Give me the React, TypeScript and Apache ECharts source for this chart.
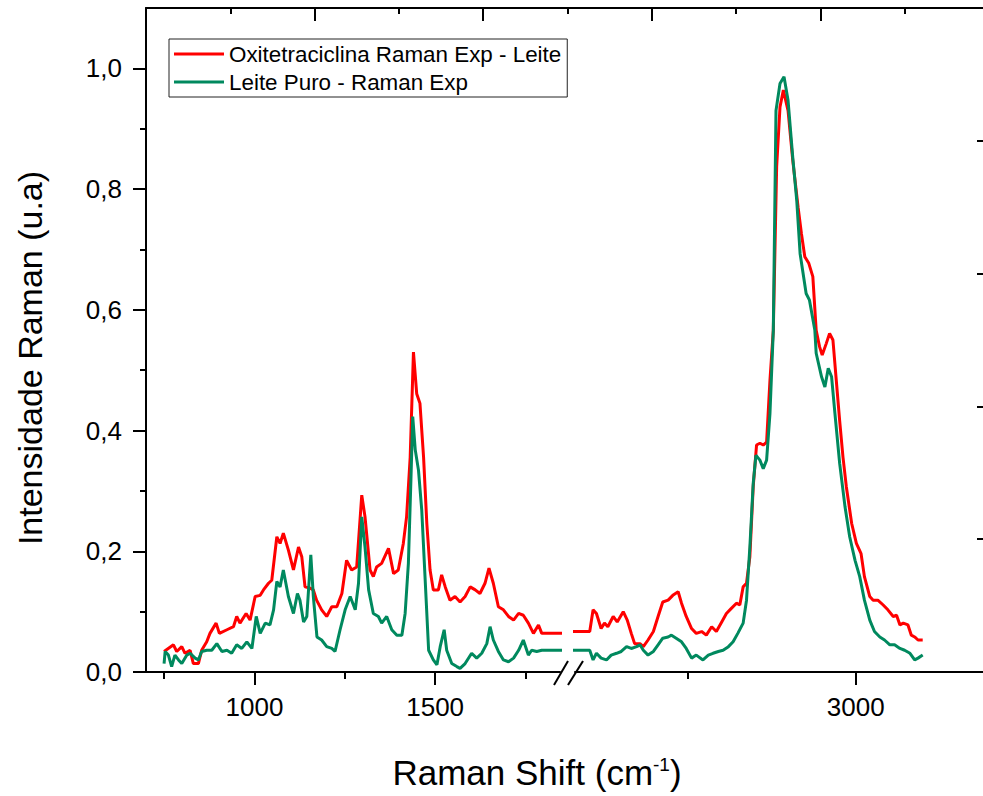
import React, { useEffect, useRef } from 'react';
import * as echarts from 'echarts';

// ---------- data (Raman shift in cm-1, intensity in u.a) ----------
const oxiShift = [
  750, 776, 785, 799, 808, 822, 831, 845, 854, 868,
  877, 894, 903, 924, 942, 951, 960, 977, 988, 1002,
  1016, 1025, 1039, 1048, 1062, 1071, 1080, 1094, 1108, 1122,
  1131, 1140, 1154, 1163, 1172, 1186, 1200, 1214, 1228, 1242,
  1255, 1269, 1283, 1297, 1306, 1320, 1329, 1338, 1352, 1371,
  1385, 1398, 1412, 1421, 1431, 1440, 1449, 1458, 1468, 1477,
  1486, 1495, 1509, 1518, 1528, 1541, 1555, 1569, 1583, 1597,
  1611, 1624, 1638, 1649, 1661, 1675, 1689, 1703, 1717, 1731,
  1744, 1758, 1772, 1786, 1795,
  2603, 2608, 2613, 2620, 2625, 2630, 2638, 2644, 2653, 2659,
  2665, 2670, 2678, 2683, 2690, 2698, 2705, 2712, 2720, 2727,
  2735, 2740, 2747, 2755, 2762, 2770, 2777, 2785, 2792, 2800,
  2807, 2814, 2822, 2827, 2832, 2837, 2842, 2847, 2852, 2857,
  2862, 2867, 2872, 2877, 2882, 2887, 2892, 2899, 2906, 2914,
  2919, 2924, 2930, 2936, 2941, 2946, 2950, 2956, 2961, 2966,
  2971, 2976, 2981, 2986, 2994, 3001, 3008, 3013, 3021, 3026,
  3033, 3041, 3048, 3056, 3061, 3066, 3071, 3078, 3083, 3088,
  3093, 3100,
];
const oxiIntensity = [
  0.034, 0.045, 0.034, 0.042, 0.031, 0.036, 0.014, 0.014, 0.036, 0.050,
  0.064, 0.081, 0.064, 0.070, 0.075, 0.092, 0.081, 0.097, 0.086, 0.125,
  0.127, 0.136, 0.147, 0.152, 0.224, 0.213, 0.230, 0.202, 0.169, 0.207,
  0.191, 0.141, 0.139, 0.136, 0.119, 0.103, 0.092, 0.108, 0.108, 0.130,
  0.185, 0.169, 0.174, 0.293, 0.257, 0.169, 0.158, 0.174, 0.180, 0.205,
  0.163, 0.169, 0.213, 0.257, 0.356, 0.530, 0.461, 0.445, 0.356, 0.246,
  0.169, 0.136, 0.136, 0.161, 0.141, 0.119, 0.125, 0.116, 0.125, 0.141,
  0.136, 0.130, 0.147, 0.172, 0.147, 0.108, 0.103, 0.092, 0.086, 0.097,
  0.094, 0.081, 0.064, 0.078, 0.064,
  0.067, 0.103, 0.097, 0.072, 0.081, 0.075, 0.092, 0.083, 0.100, 0.086,
  0.064, 0.047, 0.047, 0.042, 0.053, 0.067, 0.092, 0.116, 0.119, 0.127,
  0.133, 0.114, 0.092, 0.072, 0.064, 0.067, 0.061, 0.075, 0.067, 0.083,
  0.097, 0.105, 0.114, 0.111, 0.141, 0.147, 0.191, 0.307, 0.376, 0.379,
  0.376, 0.381, 0.483, 0.566, 0.837, 0.936, 0.964, 0.930, 0.848, 0.770,
  0.726, 0.688, 0.677, 0.655, 0.566, 0.539, 0.525, 0.544, 0.561, 0.550,
  0.483, 0.417, 0.356, 0.307, 0.246, 0.213, 0.196, 0.158, 0.125, 0.119,
  0.119, 0.111, 0.103, 0.092, 0.094, 0.078, 0.081, 0.078, 0.061, 0.058,
  0.053, 0.053,
];
const leiteShift = [
  750, 753, 762, 771, 780, 790, 799, 813, 822, 836,
  845, 854, 868, 882, 896, 910, 924, 937, 951, 965,
  979, 993, 1005, 1016, 1030, 1043, 1053, 1062, 1071, 1080,
  1094, 1108, 1119, 1126, 1136, 1145, 1156, 1163, 1173, 1186,
  1200, 1214, 1223, 1237, 1251, 1265, 1279, 1288, 1297, 1306,
  1316, 1329, 1343, 1352, 1366, 1380, 1394, 1408, 1417, 1426,
  1433, 1438, 1445, 1454, 1463, 1472, 1482, 1495, 1505, 1514,
  1525, 1532, 1546, 1560, 1569, 1583, 1601, 1615, 1629, 1643,
  1652, 1661, 1675, 1689, 1703, 1717, 1731, 1744, 1758, 1767,
  1781, 1795,
  2603, 2608, 2613, 2620, 2628, 2635, 2643, 2650, 2658, 2665, 2673,
  2678, 2683, 2690, 2698, 2705, 2712, 2720, 2725, 2732, 2740,
  2747, 2755, 2762, 2772, 2780, 2787, 2795, 2802, 2810, 2817,
  2824, 2832, 2837, 2842, 2847, 2851, 2857, 2862, 2867, 2872,
  2877, 2881, 2887, 2893, 2899, 2906, 2912, 2917, 2926, 2931,
  2939, 2941, 2949, 2954, 2959, 2964, 2969, 2976, 2984, 2991,
  2999, 3006, 3013, 3021, 3028, 3036, 3043, 3051, 3058, 3066,
  3073, 3081, 3088, 3093, 3100,
];
const leiteIntensity = [
  0.014, 0.034, 0.028, 0.009, 0.028, 0.020, 0.014, 0.028, 0.031, 0.023,
  0.020, 0.034, 0.036, 0.036, 0.047, 0.034, 0.036, 0.031, 0.045, 0.039,
  0.050, 0.039, 0.092, 0.064, 0.081, 0.078, 0.103, 0.150, 0.141, 0.169,
  0.125, 0.097, 0.130, 0.119, 0.083, 0.092, 0.194, 0.125, 0.058, 0.053,
  0.042, 0.039, 0.034, 0.070, 0.103, 0.125, 0.103, 0.147, 0.257, 0.207,
  0.136, 0.097, 0.092, 0.081, 0.092, 0.070, 0.061, 0.061, 0.097, 0.180,
  0.318, 0.423, 0.368, 0.334, 0.268, 0.158, 0.036, 0.020, 0.012, 0.042,
  0.070, 0.036, 0.014, 0.009, 0.006, 0.014, 0.031, 0.023, 0.031, 0.047,
  0.075, 0.053, 0.034, 0.020, 0.017, 0.023, 0.036, 0.053, 0.028, 0.036,
  0.034, 0.036,
  0.036, 0.020, 0.031, 0.023, 0.020, 0.028, 0.031, 0.034, 0.042, 0.039, 0.042,
  0.045, 0.036, 0.028, 0.034, 0.045, 0.056, 0.058, 0.061, 0.056, 0.050,
  0.039, 0.023, 0.028, 0.020, 0.028, 0.031, 0.034, 0.036, 0.042, 0.050,
  0.064, 0.081, 0.119, 0.207, 0.312, 0.359, 0.351, 0.337, 0.351, 0.428,
  0.566, 0.930, 0.975, 0.986, 0.947, 0.853, 0.781, 0.693, 0.627, 0.616,
  0.566, 0.528, 0.489, 0.472, 0.503, 0.489, 0.428, 0.346, 0.274, 0.224,
  0.185, 0.158, 0.119, 0.086, 0.067, 0.058, 0.053, 0.045, 0.045, 0.039,
  0.036, 0.031, 0.020, 0.023, 0.028,
];

const seriesNames = ['Oxitetraciclina Raman Exp - Leite', 'Leite Puro - Raman Exp'];
const yMajorTicks = [0, 0.2, 0.4, 0.6, 0.8, 1.0];
const yMinorTicks = [0.1, 0.3, 0.5, 0.7, 0.9];
const xLeftMajor = [1000, 1500];
const xLeftMinor = [750, 1250, 1750];
const xRightMajor = [3000];
const xRightMinor = [2750];

// ---------- layout / style ----------
const FONT = '"Liberation Sans", Arial, Helvetica, sans-serif';
const BLACK = '#000000';
const RED = '#FF0000';
const GREEN = '#00895E';
const LEFT_MIN = 700;
const LEFT_MAX = 1845.5;
const RIGHT_MIN = 2581;
const RIGHT_MAX = 3190;

const pairs = (xs: number[], ys: number[]) => xs.map((x, i) => [x, ys[i]]);

export default function App() {
  const ref = useRef<HTMLDivElement>(null);

  useEffect(() => {
    if (!ref.current) return;
    const chart = echarts.init(ref.current, undefined, { renderer: 'svg' });

    const lineAxisStyle = { color: BLACK, width: 2 };
    const hiddenValueY = (gridIndex: number) => ({
      type: 'value', gridIndex, min: 0, max: 1.1, show: false,
      splitLine: { show: false },
    });

    const oxiData = pairs(oxiShift, oxiIntensity);
    const leiteData = pairs(leiteShift, leiteIntensity);

    const mkSeries = (name: string, color: string, data: number[][], xi: number, yi: number) => ({
      name, type: 'line', xAxisIndex: xi, yAxisIndex: yi, data,
      showSymbol: false, symbol: 'none', clip: true, color,
      lineStyle: { color, width: 3 },
      emphasis: { disabled: true },
    });

    const option: any = {
      animation: false,
      backgroundColor: '#ffffff',
      textStyle: { fontFamily: FONT },
      grid: [
        { left: 146, top: 8, width: 414, bottom: 124, outerBoundsMode: 'none' },
        { left: 575, top: 8, right: 0, bottom: 124, outerBoundsMode: 'none' },
        { left: 146, top: 8, right: -6, bottom: 124, outerBoundsMode: 'none' },
      ],
      xAxis: [
        {
          type: 'value', gridIndex: 0, position: 'bottom', min: LEFT_MIN, max: LEFT_MAX,
          axisLine: { show: true, onZero: false, lineStyle: lineAxisStyle },
          axisTick: { show: true, length: 13, lineStyle: lineAxisStyle, customValues: xLeftMajor },
          axisLabel: {
            show: true, customValues: xLeftMajor, fontSize: 26, color: BLACK, margin: 22,
            fontFamily: FONT, formatter: (v: number) => String(v),
          },
          splitLine: { show: false },
        },
        {
          type: 'value', gridIndex: 0, position: 'bottom', min: LEFT_MIN, max: LEFT_MAX,
          axisLine: { show: false, onZero: false },
          axisTick: { show: true, length: 7, lineStyle: lineAxisStyle, customValues: xLeftMinor },
          axisLabel: { show: false },
          splitLine: { show: false },
        },
        {
          type: 'value', gridIndex: 1, position: 'bottom', min: RIGHT_MIN, max: RIGHT_MAX,
          axisLine: { show: true, onZero: false, lineStyle: lineAxisStyle },
          axisTick: { show: true, length: 13, lineStyle: lineAxisStyle, customValues: xRightMajor },
          axisLabel: {
            show: true, customValues: xRightMajor, fontSize: 26, color: BLACK, margin: 22,
            fontFamily: FONT, formatter: (v: number) => String(v),
          },
          splitLine: { show: false },
        },
        {
          type: 'value', gridIndex: 1, position: 'bottom', min: RIGHT_MIN, max: RIGHT_MAX,
          axisLine: { show: false, onZero: false },
          axisTick: { show: true, length: 7, lineStyle: lineAxisStyle, customValues: xRightMinor },
          axisLabel: { show: false },
          splitLine: { show: false },
        },
        {
          type: 'value', gridIndex: 2, position: 'top', min: 0, max: 10, interval: 2,
          axisLine: { show: true, onZero: false, lineStyle: lineAxisStyle },
          axisTick: { show: true, inside: true, length: 13, lineStyle: lineAxisStyle },
          minorTick: { show: true, splitNumber: 2, length: 6, lineStyle: lineAxisStyle },
          axisLabel: { show: false },
          splitLine: { show: false },
          minorSplitLine: { show: false },
        },
      ],
      yAxis: [
        {
          type: 'value', gridIndex: 0, position: 'left', min: 0, max: 1.1,
          axisLine: { show: true, onZero: false, lineStyle: lineAxisStyle },
          axisTick: { show: true, length: 13, lineStyle: lineAxisStyle, customValues: yMajorTicks },
          axisLabel: {
            show: true, customValues: yMajorTicks, fontSize: 26, color: BLACK, margin: 24,
            fontFamily: FONT, formatter: (v: number) => v.toFixed(1).replace('.', ','),
          },
          splitLine: { show: false },
        },
        {
          type: 'value', gridIndex: 0, position: 'left', min: 0, max: 1.1,
          axisLine: { show: false, onZero: false },
          axisTick: { show: true, length: 6, lineStyle: lineAxisStyle, customValues: yMinorTicks },
          axisLabel: { show: false },
          splitLine: { show: false },
        },
        hiddenValueY(1),
        {
          type: 'value', gridIndex: 1, position: 'right', min: 0, max: 5, interval: 1,
          axisLine: { show: false, onZero: false },
          axisTick: { show: true, inside: true, length: 6, lineStyle: lineAxisStyle },
          axisLabel: { show: false },
          splitLine: { show: false },
        },
        hiddenValueY(2),
      ],
      legend: {
        data: seriesNames,
        orient: 'vertical',
        left: 169,
        top: 39,
        padding: [4, 6, 4, 5],
        itemGap: 6,
        itemWidth: 50,
        itemHeight: 3,
        icon: 'rect',
        borderColor: '#222222',
        borderWidth: 1,
        backgroundColor: '#ffffff',
        textStyle: { fontSize: 22.4, color: BLACK, lineHeight: 22, fontFamily: FONT },
      },
      series: [
        mkSeries(seriesNames[0], RED, oxiData, 0, 0),
        mkSeries(seriesNames[0], RED, oxiData, 2, 2),
        mkSeries(seriesNames[1], GREEN, leiteData, 0, 0),
        mkSeries(seriesNames[1], GREEN, leiteData, 2, 2),
      ],
      graphic: [
        {
          type: 'text', x: 30, y: 358, rotation: Math.PI / 2,
          style: {
            text: 'Intensidade Raman (u.a)', fill: BLACK,
            fontSize: 34, fontFamily: FONT,
            align: 'center', verticalAlign: 'middle',
            textAlign: 'center', textVerticalAlign: 'middle',
          },
        },
        {
          type: 'text', x: 537, y: 772,
          style: {
            text: 'Raman Shift (cm{sup|-1})', fill: BLACK,
            fontSize: 35, fontFamily: FONT,
            align: 'center', verticalAlign: 'middle',
            textAlign: 'center', textVerticalAlign: 'middle',
            rich: {
              sup: { fontSize: 19, fontFamily: FONT, fill: BLACK, verticalAlign: 'top', lineHeight: 19 },
            },
          },
        },
        { type: 'line', shape: { x1: 554, y1: 685, x2: 568, y2: 661 }, style: { stroke: BLACK, lineWidth: 2 } },
        { type: 'line', shape: { x1: 568, y1: 685, x2: 583, y2: 661 }, style: { stroke: BLACK, lineWidth: 2 } },
      ],
    };

    chart.setOption(option);
    return () => chart.dispose();
  }, []);

  return (
    <div
      ref={ref}
      style={{ position: 'absolute', left: 0, top: 0, width: 983, height: 796, background: '#fff' }}
    />
  );
}
